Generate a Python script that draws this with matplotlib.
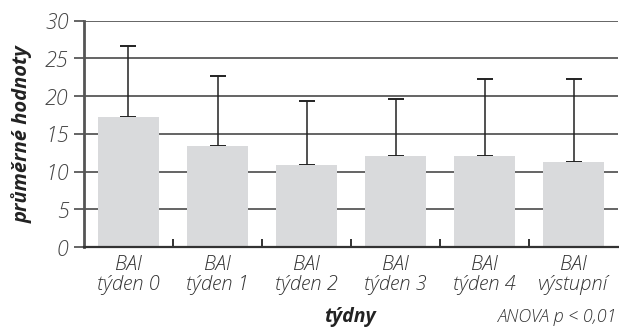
import numpy as np
import matplotlib.pyplot as plt

# průměrné hodnoty BAI a směrodatné odchylky (jen horní rameno)
skupiny = ["BAI\ntýden 0", "BAI\ntýden 1", "BAI\ntýden 2", "BAI\ntýden 3", "BAI\ntýden 4", "BAI\nvýstupní"]
prumery = [17.2, 13.4, 10.9, 12.05, 12.05, 11.3]
sd = [9.5, 9.2, 8.4, 7.55, 10.25, 11.0]

plt.rcParams['font.family'] = ['Open Sans', 'DejaVu Sans']

fig = plt.figure(figsize=(6.19, 3.29), dpi=100)
ax = fig.add_axes([0.1357, 0.249, 0.8627, 0.6884])

x = np.arange(len(skupiny))
ax.set_axisbelow(True)
ax.yaxis.grid(True, color='#3a3a3a', linewidth=1.1)
ax.bar(x, prumery, width=0.69, color='#d9dadc', zorder=2)
ax.errorbar(x, prumery, yerr=[np.zeros(len(sd)), sd], fmt='none',
            ecolor='#222222', elinewidth=1.1, capsize=5.5, capthick=1.4, zorder=1)

ax.set_xlim(-0.5, len(skupiny) - 0.5)
ax.set_ylim(0, 30)
ax.set_yticks(np.arange(0, 31, 5))
ax.set_xticks(x)
ax.set_xticklabels(skupiny, fontstyle='italic', fontweight='light', fontsize=14.5,
                   color='#333333', linespacing=1.0)
ax.set_xticks(x[:-1] + 0.5, minor=True)
for lab in ax.get_yticklabels():
    lab.set_fontstyle('italic')
    lab.set_fontweight('light')
    lab.set_fontsize(15.5)
    lab.set_color('#444444')

ax.tick_params(axis='x', which='major', length=0, pad=6)
ax.tick_params(axis='x', which='minor', direction='in', length=6, width=1.4, color='#333333')
ax.tick_params(axis='y', length=7, width=1.1, color='#3a3a3a', pad=4)

for s in ['top', 'right']:
    ax.spines[s].set_visible(False)
ax.spines['left'].set_color('#555555')
ax.spines['left'].set_linewidth(2)
ax.spines['bottom'].set_color('#333333')
ax.spines['bottom'].set_linewidth(1.6)

ax.set_ylabel('průměrné hodnoty', fontsize=14.5, fontweight='bold', fontstyle='italic',
              color='#222222', labelpad=9)
fig.text(0.565, 0.022, 'týdny', fontsize=14, fontweight='bold', fontstyle='italic',
         color='#222222', ha='center')
fig.text(0.997, 0.022, 'ANOVA p < 0,01', fontsize=13, fontstyle='italic', fontweight='light',
         color='#333333', ha='right')

fig.savefig('out.png', dpi=100)
